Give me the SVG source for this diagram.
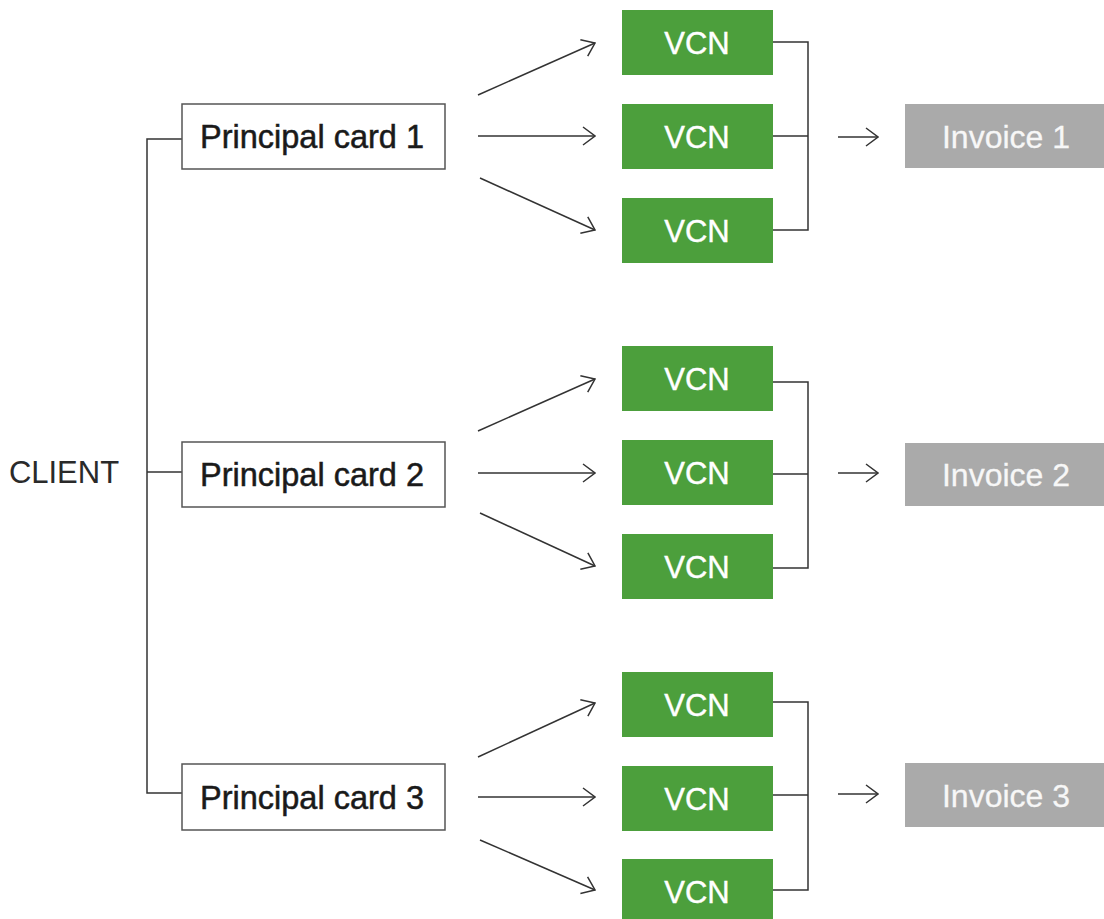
<svg xmlns="http://www.w3.org/2000/svg" width="1104" height="919" viewBox="0 0 1104 919">
<style>
.card{fill:#fff;stroke:#555;stroke-width:1.5}
.vcn{fill:#4c9f3c}
.inv{fill:#aaaaaa}
.t{font-family:"Liberation Sans",Arial,Helvetica,sans-serif;text-anchor:middle}
.tc{font-size:32.5px;fill:#1a1a1a;stroke:#1a1a1a;stroke-width:0.5}
.tv{font-size:31px;fill:#fff;stroke:#fff;stroke-width:0.4}
.ti{font-size:32px;fill:#f7f7f7;stroke:#f7f7f7;stroke-width:0.3}
.ln{fill:none;stroke:#333;stroke-width:1.5}
.ar{fill:none;stroke:#333;stroke-width:1.5;marker-end:url(#ah)}
</style>
<defs>
<marker id="ah" viewBox="0 0 14 20" refX="13" refY="10" markerWidth="14" markerHeight="20" markerUnits="userSpaceOnUse" orient="auto">
<path d="M1,1 L13,10 L1,19" fill="none" stroke="#333" stroke-width="1.5"/>
</marker>
</defs>
<rect width="1104" height="919" fill="#fff"/>
<g id="connectors">
<path class="ln" d="M182,139 H147 V793 H182 M147,472 H182"/>
<line class="ar" x1="478" y1="95" x2="595" y2="43"/>
<line class="ar" x1="478" y1="136" x2="595" y2="136"/>
<line class="ar" x1="480" y1="178" x2="595" y2="230"/>
<path class="ln" d="M773,42 H808 V230 H773 M773,136 H808"/>
<line class="ar" x1="838" y1="137" x2="878" y2="137"/>
<line class="ar" x1="478" y1="431" x2="595" y2="379"/>
<line class="ar" x1="478" y1="473" x2="595" y2="473"/>
<line class="ar" x1="480" y1="513" x2="595" y2="566"/>
<path class="ln" d="M773,382 H808 V568 H773 M773,474 H808"/>
<line class="ar" x1="838" y1="473" x2="878" y2="473"/>
<line class="ar" x1="478" y1="757" x2="595" y2="703"/>
<line class="ar" x1="478" y1="797" x2="595" y2="797"/>
<line class="ar" x1="480" y1="840" x2="595" y2="890"/>
<path class="ln" d="M773,702 H808 V890 H773 M773,795 H808"/>
<line class="ar" x1="838" y1="794" x2="878" y2="794"/>
</g>
<g id="client"><text class="t" x="64" y="483" style="font-size:31px;fill:#2a2a2a">CLIENT</text></g>
<g id="card1"><rect class="card" x="182" y="104" width="263" height="65"/><text class="t tc" x="312" y="148">Principal card 1</text></g>
<g id="card2"><rect class="card" x="182" y="442" width="263" height="65"/><text class="t tc" x="312" y="486">Principal card 2</text></g>
<g id="card3"><rect class="card" x="182" y="764" width="263" height="66"/><text class="t tc" x="312" y="809">Principal card 3</text></g>
<g id="vcn1a"><rect class="vcn" x="622" y="10" width="151" height="65"/><text class="t tv" x="697" y="54">VCN</text></g>
<g id="vcn1b"><rect class="vcn" x="622" y="104" width="151" height="65"/><text class="t tv" x="697" y="148">VCN</text></g>
<g id="vcn1c"><rect class="vcn" x="622" y="198" width="151" height="65"/><text class="t tv" x="697" y="242">VCN</text></g>
<g id="vcn2a"><rect class="vcn" x="622" y="346" width="151" height="65"/><text class="t tv" x="697" y="390">VCN</text></g>
<g id="vcn2b"><rect class="vcn" x="622" y="440" width="151" height="65"/><text class="t tv" x="697" y="484">VCN</text></g>
<g id="vcn2c"><rect class="vcn" x="622" y="534" width="151" height="65"/><text class="t tv" x="697" y="578">VCN</text></g>
<g id="vcn3a"><rect class="vcn" x="622" y="672" width="151" height="65"/><text class="t tv" x="697" y="716">VCN</text></g>
<g id="vcn3b"><rect class="vcn" x="622" y="766" width="151" height="65"/><text class="t tv" x="697" y="810">VCN</text></g>
<g id="vcn3c"><rect class="vcn" x="622" y="859" width="151" height="65"/><text class="t tv" x="697" y="903">VCN</text></g>
<g id="invoice1"><rect class="inv" x="905" y="104" width="205" height="64"/><text class="t ti" x="1006" y="148">Invoice 1</text></g>
<g id="invoice2"><rect class="inv" x="905" y="443" width="205" height="63"/><text class="t ti" x="1006" y="486">Invoice 2</text></g>
<g id="invoice3"><rect class="inv" x="905" y="763" width="205" height="64"/><text class="t ti" x="1006" y="807">Invoice 3</text></g>
</svg>
